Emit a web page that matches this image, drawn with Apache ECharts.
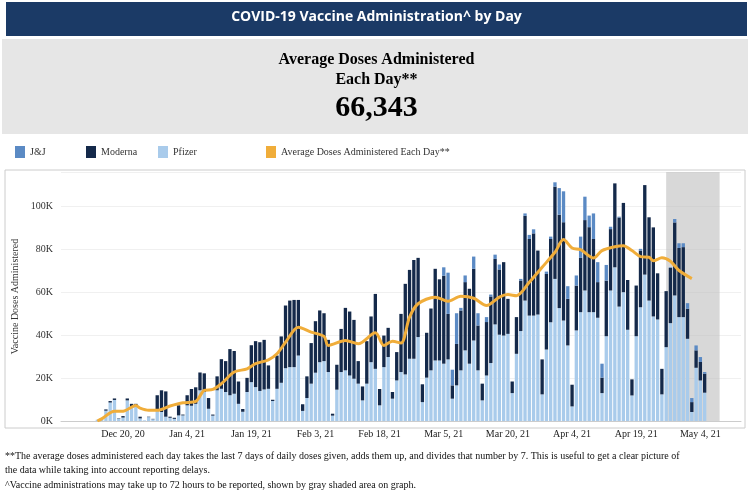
<!DOCTYPE html>
<html>
<head>
<meta charset="UTF-8" />
<title>COVID-19 Vaccine Administration by Day</title>
<style>
  html, body { margin: 0; padding: 0; background: #fff; }
  #chart { width: 753px; height: 496px; }
</style>
</head>
<body>
<div id="chart"></div>
<script src="https://cdn.jsdelivr.net/npm/echarts@6/dist/echarts.min.js"></script>
<script>
// daily doses, thousands, Dec 14, 2020 .. May 5, 2021
const pfizer = [
  0.6, 1, 4.8, 8.6, 9.8, 1.0, 1.6, 9.6, 6.5, 6.8, 1.2, 0.3, 1.8, 0.8, 5, 4.2, 2, 1.5, 1, 2.6, 2.6, 7.3,
  7.1, 8, 14.3, 13.5, 5.7, 2.5, 14.3, 15, 13.5, 12, 12.7, 8, 4.3, 13.5, 18.1, 15.8, 14, 14.7, 15, 9.3, 15, 17.8,
  24.6, 25.1, 25.1, 30.5, 4.7, 10.7, 17.4, 22.5, 27.4, 27.9, 22.8, 2.5, 14.6, 22.8, 23.6, 21.2, 19.7, 17.4,
  9.6, 17.4, 27.4, 24.3, 7.3, 25.1, 29.8, 10.4, 18.9, 22.8, 21.7, 29, 29, 39.1, 8.8, 20.2, 23.6, 28.2, 28.2,
  26.7, 28.7, 10.4, 16.6, 23.6, 32.9, 26.7, 37.5, 23.6, 9.6, 21.2, 27, 45, 40.2, 39.8,
  40.6, 13, 31.3, 41.9, 56.1, 49.1, 49.1, 49.6, 12.4, 33.3, 46, 66.2, 52.6, 46.8, 35.2, 6.8, 42.2, 50.7,
  60.8, 50.7, 50.7, 48.1, 13, 39.5, 60.8, 71.6, 53.3, 60, 42.5, 11.9, 39.5, 53, 68.2, 56.1, 48.7, 47.3,
  12.4, 34.4, 45.6, 58.5, 48.4, 48.4, 38.3, 4.2, 24.8, 18.9, 13.2
];
const moderna = [
  0, 0, 0.6, 0.7, 0.7, 0.2, 0.7, 0.9, 1.5, 1.2, 0.8, 0, 0.2, 0.2, 7, 10.1, 11.8, 0.5, 0.5, 4.7, 0.4, 4.7,
  7.8, 7.7, 8.3, 8.7, 5, 0.5, 6.5, 13.8, 14.4, 21.5, 19.9, 10.4, 1.3, 6.6, 17.2, 21.4, 22.7, 23.1, 10.9, 0.6, 15.5, 21.6,
  29.2, 31.0, 31.3, 25.9, 3.1, 10.1, 18.9, 24, 24.1, 22.3, 15, 0.9, 11.6, 20.1, 29.1, 29.8, 27.4, 10.5,
  6.5, 19.8, 21.3, 34.9, 7.6, 14.7, 13.6, 3.1, 13.2, 27.1, 42.2, 41.4, 46, 36.9, 8.3, 20.9, 28.8, 42.7, 37.8,
  41, 21.2, 6.2, 19.3, 27.9, 31.8, 34.9, 33.4, 20.9, 7.8, 24.9, 31, 30.5, 30.4, 34.2,
  16.3, 5.4, 17.1, 23.5, 39.5, 35.7, 38.3, 29.8, 16.3, 35.2, 38.8, 43, 43.5, 45.8, 21.7, 10.1, 20.9, 25.3,
  32.8, 39.6, 34.1, 16.6, 7.2, 25.9, 28.6, 39.1, 41.5, 41.6, 23.2, 7.5, 23.6, 26.4, 41.7, 38.8, 41.5, 21.5,
  11.9, 26.1, 25.7, 34, 32.2, 32.6, 14, 4.6, 8.1, 8.6, 8.8
];
const jj = [
  0, 0, 0, 0, 0, 0, 0, 0, 0, 0, 0, 0, 0, 0, 0, 0, 0, 0, 0, 0, 0, 0,
  0, 0, 0, 0, 0, 0, 0, 0, 0, 0, 0, 0, 0, 0, 0, 0, 0, 0, 0, 0, 0, 0,
  0, 0, 0, 0, 0, 0, 0, 0, 0, 0, 0, 0, 0, 0, 0, 0, 0, 0,
  0, 0, 0, 0, 0, 0, 0, 0, 0, 0, 0, 0, 0, 0, 0, 0, 0, 0, 0,
  3.9, 19.2, 7.3, 14.3, 1.2, 3.1, 0, 5.7, 5.7, 0, 2.3, 0.9, 2, 2.3, 0,
  0, 0, 0, 0.8, 1.1, 1.9, 1.9, 0, 0, 1.1, 1.1, 2, 12.4, 14.4, 5.9, 0, 4.7, 9.9,
  10.9, 5.4, 11.9, 9.3, 6.5, 7.3, 1.1, 0, 0.4, 0, 0, 0, 0, 0.8, 0, 0, 0, 0,
  0, 0, 0.3, 1.6, 2.2, 1.8, 2.6, 1.9, 2.3, 2.3, 0.8
];
// [day index from Dec 14, 7-day average in thousands]
const avgPoints = [
  [0, 0], [1, 1], [4, 4.6], [6, 4.6], [9, 7.2], [10, 6], [12, 5], [14, 5], [17, 7], [20, 8.5],
  [23, 9.1], [25, 14.3], [27, 14.7], [29, 17.4], [32, 22.8], [35, 24.3], [37, 26.7], [40, 28.5],
  [42, 31.3], [44, 36.7], [47, 43.7], [50, 41.4], [53, 39.4], [54, 35.2], [58, 37.5], [61, 36],
  [65, 41.1], [67, 35.2], [69, 37.2], [71, 36.3], [73, 48.4], [75, 54.6], [79, 57.7], [82, 55.8],
  [85, 58.1], [88, 57.2], [91, 53.8], [94, 57.7], [96, 58.9], [98, 58.4], [101, 64.6], [104, 71.6],
  [107, 78.6], [109, 84.5], [111, 80.6], [113, 79.8], [116, 75.9], [118, 79.4], [121, 81.2],
  [123, 81.7], [125, 79.4], [127, 76.6], [129, 76.3], [130, 74.7], [132, 76], [134, 74.4],
  [136, 70.1], [139, 66.343]
];
const yTicks = [0, 20, 40, 60, 80, 100];

// axis days: Dec 6, 2020 .. May 13, 2021 (data start 8 days in)
const months = ["Jan", "Feb", "Mar", "Apr", "May", "Jun", "Jul", "Aug", "Sep", "Oct", "Nov", "Dec"];
const lead = 8, totalDays = 159;
const days = [];
for (let i = 0; i < totalDays; i++) {
  const d = new Date(Date.UTC(2020, 11, 6 + i));
  days.push(months[d.getUTCMonth()] + " " + d.getUTCDate() + ", " + String(d.getUTCFullYear()).slice(2));
}
const pad = arr => days.map((_, i) => (i >= lead && i - lead < arr.length) ? arr[i - lead] : null);
const avgData = avgPoints.map(p => [p[0] + lead, p[1]]);

const serif = "Liberation Serif";
const chart = echarts.init(document.getElementById("chart"));
const mkLegend = (name, left) => ({
  data: [name], left: left, top: 141, icon: "rect", itemWidth: 10, itemHeight: 12, itemGap: 6,
  textStyle: { fontFamily: serif, fontSize: 10, color: "#333" }
});
chart.setOption({
  animation: false,
  graphic: [
    { type: "rect", shape: { x: 6, y: 2, width: 741, height: 34 }, style: { fill: "#1b3a66" } },
    { type: "text", left: "center", top: 10, style: { text: "COVID-19 Vaccine Administration^ by Day", fill: "#fff", font: "bold 14px 'Open Sans'" } },
    { type: "rect", shape: { x: 2, y: 39, width: 746, height: 95 }, style: { fill: "#e6e6e6" } },
    { type: "text", left: "center", top: 52, style: { text: "Average Doses Administered", fill: "#000", font: "bold 16px 'Liberation Serif'" } },
    { type: "text", left: "center", top: 72, style: { text: "Each Day**", fill: "#000", font: "bold 16px 'Liberation Serif'" } },
    { type: "text", left: "center", top: 93, style: { text: "66,343", fill: "#000", font: "bold 30px 'Liberation Serif'" } },
    { type: "rect", shape: { x: 5, y: 170, width: 740, height: 258 }, style: { fill: "none", stroke: "#ccc", lineWidth: 1 } },
    { type: "text", left: 5, top: 451, style: { text: "**The average doses administered each day takes the last 7 days of daily doses given, adds them up, and divides that number by 7. This is useful to get a clear picture of", fill: "#111", font: "10px 'Liberation Serif'" } },
    { type: "text", left: 5, top: 465, style: { text: "the data while taking into account reporting delays.", fill: "#111", font: "10px 'Liberation Serif'" } },
    { type: "text", left: 5, top: 480, style: { text: "^Vaccine administrations may take up to 72 hours to be reported, shown by gray shaded area on graph.", fill: "#111", font: "10px 'Liberation Serif'" } }
  ],
  legend: [
    mkLegend("J&J", 10), mkLegend("Moderna", 81), mkLegend("Pfizer", 153),
    mkLegend("Average Doses Administered Each Day**", 261)
  ],
  grid: { left: 61, right: 12, top: 172, bottom: 75 },
  xAxis: {
    type: "category", data: days, boundaryGap: true,
    axisLine: { lineStyle: { color: "#ccc" } }, axisTick: { show: false },
    axisLabel: {
      interval: (i) => i >= 14 && (i - 14) % 15 === 0, margin: 8,
      fontFamily: serif, fontSize: 10, color: "#222"
    }
  },
  yAxis: {
    type: "value", min: 0, max: 116, interval: 20,
    name: "Vaccine Doses Administered", nameLocation: "middle", nameGap: 36,
    nameTextStyle: { fontFamily: serif, fontSize: 10, color: "#333" },
    axisLabel: { formatter: v => yTicks.includes(v) ? v + "K" : "", fontFamily: serif, fontSize: 10, color: "#333" },
    splitLine: { lineStyle: { color: "#f0f0f0" } }
  },
  series: [
    { name: "Pfizer", type: "bar", stack: "doses", data: pad(pfizer), barCategoryGap: "22%",
      itemStyle: { color: "#a9cbeb" },
      markArea: { silent: true, itemStyle: { color: "rgba(190,190,190,0.6)" },
        data: [[{ xAxis: "May 3, 21" }, { xAxis: "May 7, 21" }]] } },
    { name: "Moderna", type: "bar", stack: "doses", data: pad(moderna), itemStyle: { color: "#14294a" } },
    { name: "J&J", type: "bar", stack: "doses", data: pad(jj), itemStyle: { color: "#5b8ac4" } },
    { name: "Average Doses Administered Each Day**", type: "line", data: avgData, smooth: 0.3,
      showSymbol: false, z: 5, lineStyle: { color: "#f0ad3a", width: 3 }, itemStyle: { color: "#f0ad3a" } }
  ]
});
</script>
</body>
</html>
